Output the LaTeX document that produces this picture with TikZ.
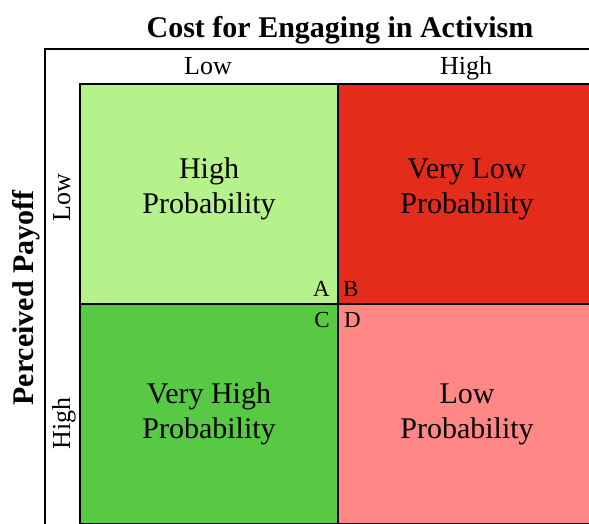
\documentclass[tikz,border=0pt]{standalone}
\usepackage{fontspec}
\setmainfont{Liberation Serif}
\usepackage{tikz}

\definecolor{lowgreen}{RGB}{182,242,139}
\definecolor{highred}{RGB}{228,44,27}
\definecolor{midgreen}{RGB}{88,201,68}
\definecolor{lowpink}{RGB}{255,136,134}

\begin{document}
\begin{tikzpicture}[x=1pt,y=-1pt,
    cell/.style={draw=black,line width=2pt,minimum width=258pt,minimum height=220pt,inner sep=0pt,anchor=north west},
    celltext/.style={align=center,inner sep=0pt,font=\fontsize{30}{35}\selectfont},
    axislabel/.style={inner sep=0pt,anchor=base,font=\fontsize{26}{30}\selectfont},
    cornerlabel/.style={inner sep=0pt,font=\fontsize{23}{26}\selectfont}]

      \useasboundingbox (0,0) rectangle (589,523);
      \clip (0,0) rectangle (589,523);

      \draw[line width=2pt] (45,49) rectangle (640,600);

      \node[inner sep=0pt,anchor=base,font=\bfseries\fontsize{30}{36}\selectfont] (title) at (340,37){Cost for Engaging in Activism};
      \node[axislabel] (xlow) at (208,74){Low};
      \node[axislabel] (xhigh) at (466,74){High};
      \node[inner sep=0pt,anchor=base,rotate=90,font=\bfseries\fontsize{30}{36}\selectfont] (ylabel) at (33,298){Perceived Payoff};
      \node[axislabel,rotate=90] (ylow) at (70,198){Low};
      \node[axislabel,rotate=90] (yhigh) at (70,423){High};

      \node[cell,fill=lowgreen] (hp) at (79,83){};
      \node[cell,fill=highred] (vlp) at (337,83){};
      \node[cell,fill=midgreen] (vhp) at (79,303){};
      \node[cell,fill=lowpink] (lp) at (337,303){};

      \node[celltext,yshift=5pt] (hpt) at (hp.center){High\\Probability};
      \node[celltext,yshift=5pt] (vlpt) at (vlp.center){Very Low\\Probability};
      \node[celltext] (vhpt) at (vhp.center){Very High\\Probability};
      \node[celltext] (lpt) at (lp.center){Low\\Probability};

      \node[cornerlabel,anchor=base east] (a) at (330,296){A};
      \node[cornerlabel,anchor=base west] (b) at (343,296){B};
      \node[cornerlabel,anchor=base east] (c) at (330,327){C};
      \node[cornerlabel,anchor=base west] (d) at (344,327){D};
\end{tikzpicture}
\end{document}
